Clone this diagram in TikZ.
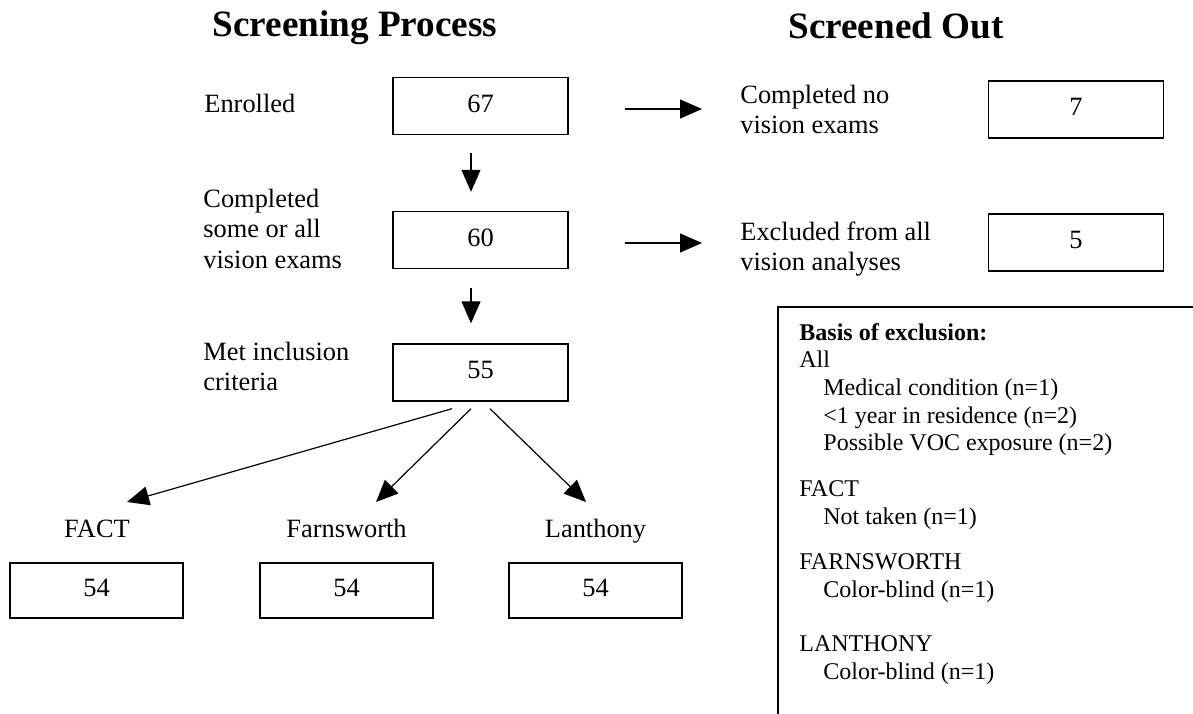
\documentclass[tikz,border=0pt]{standalone}
\usepackage{fontspec}
\setmainfont{Liberation Serif}
\usetikzlibrary{arrows.meta,calc}
\begin{document}
\begin{tikzpicture}[x=0.5pt,y=-0.5pt,
  box/.style={draw,line width=0.7pt,minimum width=87.5pt,minimum height=28.5pt,inner sep=0pt,text height=9pt,text depth=3pt,font=\fontsize{13.2}{15.25}\selectfont},
  smallbox/.style={box,minimum width=86.5pt,minimum height=27.5pt},
  lbl/.style={inner sep=0pt,anchor=base west,font=\fontsize{13.2}{15.25}\selectfont},
  ttl/.style={inner sep=0pt,anchor=base,font=\fontsize{18.6}{22}\selectfont\bfseries},
  testname/.style={inner sep=0pt,anchor=base,font=\fontsize{13.2}{15.25}\selectfont},
  arr/.style={line width=0.6pt,-{Triangle[length=11pt,width=9.5pt]}},
]
\useasboundingbox (0,0) rectangle (1193,713);

\node[ttl] (t1) at (355,36) {Screening Process};
\node[ttl] (t2) at (896,38) {Screened Out};

\node[lbl] (enr) at (204,112) {Enrolled};
\node[lbl] (cmp) at (203,207) {\begin{tabular}[t]{@{}l@{}}Completed\\some or all\\vision exams\end{tabular}};
\node[lbl] (met) at (203,360) {\begin{tabular}[t]{@{}l@{}}Met inclusion\\criteria\end{tabular}};

\node[box] (b67) at (480.5,106) {67};
\node[box] (b60) at (480.5,240) {60};
\node[box] (b55) at (480.5,372.5) {55};

\node[lbl] (cno) at (740,103) {\begin{tabular}[t]{@{}l@{}}Completed no\\vision exams\end{tabular}};
\node[lbl] (exc) at (740,240) {\begin{tabular}[t]{@{}l@{}}Excluded from all\\vision analyses\end{tabular}};
\node[box] (b7) at (1076,109.5) {7};
\node[box] (b5) at (1076,242.5) {5};

\node[testname] (fact) at (97,537) {FACT};
\node[testname] (farn) at (346.5,537) {Farnsworth};
\node[testname] (lan) at (595.5,537) {Lanthony};
\node[smallbox] (f54) at (96.5,590.5) {54};
\node[smallbox] (w54) at (346.5,590.5) {54};
\node[smallbox] (l54) at (595.5,590.5) {54};

\draw[line width=0.7pt] (1200,307) -- (778,307) -- (778,720);
\node[inner sep=0pt,anchor=base west,font=\fontsize{12}{13.85}\selectfont] (basis) at (799,340)
 {\begin{tabular}[t]{@{}l@{}}\textbf{Basis of exclusion:}\\
 All\\
 \hspace*{12pt}Medical condition (n=1)\\
 \hspace*{12pt}<1 year in residence (n=2)\\
 \hspace*{12pt}Possible VOC exposure (n=2)\\[9.2pt]
 FACT\\
 \hspace*{12pt}Not taken (n=1)\\[8.7pt]
 FARNSWORTH\\
 \hspace*{12pt}Color-blind (n=1)\\[13.2pt]
 LANTHONY\\
 \hspace*{12pt}Color-blind (n=1)
 \end{tabular}};

\draw[arr,shorten <=28pt,shorten >=19pt] ($(b67.east)+(0,3)$) -- ($(b67.east -| cno.west)+(0,3)$);
\draw[arr,shorten <=28pt,shorten >=19pt] ($(b60.east)+(0,3)$) -- ($(b60.east -| exc.west)+(0,3)$);
\draw[arr] ($(b67.south)+(-9.5,18)$) -- ($(b60.north)+(-9.5,-19)$);
\draw[arr] ($(b60.south)+(-9.5,19)$) -- ($(b55.north)+(-9.5,-20)$);
\draw[arr] ($(b55.south)+(-28.5,7)$) -- ($(fact.base)+(30,-35)$);
\draw[arr] ($(b55.south)+(-9.5,7)$) -- ($(farn.base)+(29.5,-35)$);
\draw[arr] ($(b55.south)+(9.5,7)$) -- ($(lan.base)+(-9.5,-35)$);
\end{tikzpicture}
\end{document}
